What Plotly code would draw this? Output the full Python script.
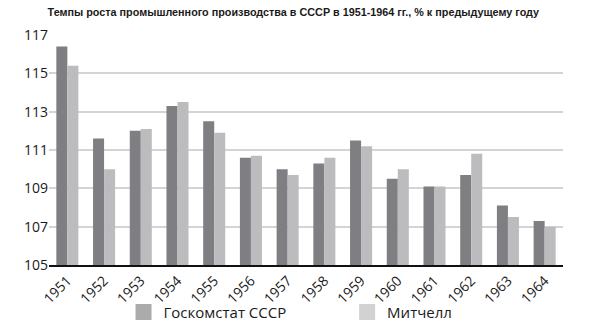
import plotly.graph_objects as go

# Industrial output growth, USSR 1951-1964, % of previous year
years = ["1951", "1952", "1953", "1954", "1955", "1956", "1957",
         "1958", "1959", "1960", "1961", "1962", "1963", "1964"]
goskomstat = [116.4, 111.6, 112.0, 113.3, 112.5, 110.6, 110.0,
              110.3, 111.5, 109.5, 109.1, 109.7, 108.1, 107.3]
mitchell = [115.4, 110.0, 112.1, 113.5, 111.9, 110.7, 109.7,
            110.6, 111.2, 110.0, 109.1, 110.8, 107.5, 107.0]
y_ticks = [105, 107, 109, 111, 113, 115, 117]

names = ["Госкомстат СССР", "Митчелл"]
bar_colors = ["#7f7f83", "#bcbcbe"]
legend_colors = ["#ababab", "#d2d2d2"]
legend_ids = ["legend", "legend2"]

FONT = "Open Sans"

fig = go.Figure()
for vals, name, col in zip([goskomstat, mitchell], names, bar_colors):
    fig.add_trace(go.Bar(x=years, y=vals, name=name, marker_color=col,
                         marker_line_width=0, showlegend=False))

# legend entries as square markers, one legend box per series
for name, col, lg in zip(names, legend_colors, legend_ids):
    fig.add_trace(go.Scatter(x=[None], y=[None], mode="markers", name=name,
                             legend=lg,
                             marker=dict(symbol="square", size=16, color=col)))

legend_style = dict(orientation="h", yanchor="middle", y=-0.205, xanchor="left",
                    bgcolor="rgba(0,0,0,0)", borderwidth=0,
                    font=dict(family=FONT, size=15, color="#1a1a1a"))

fig.update_layout(
    width=615, height=331,
    margin=dict(l=49, r=52, t=35, b=66, autoexpand=False),
    paper_bgcolor="white", plot_bgcolor="white",
    barmode="group", bargap=0.4, bargroupgap=0,
    title=dict(text="Темпы роста промышленного производства в СССР в 1951-1964 гг., % к предыдущему году",
               font=dict(family="Liberation Sans", size=10.8, color="#1a1a1a", weight="bold"),
               x=0.477, xanchor="center", y=0.962, yanchor="middle"),
    font=dict(family=FONT, size=14, color="#1a1a1a"),
    xaxis=dict(tickangle=-45, showline=True, linecolor="#111111", linewidth=2,
               ticks="", showgrid=False, range=[-0.5, 13.5], automargin=False,
               tickfont=dict(family=FONT, size=14, color="#1a1a1a")),
    yaxis=dict(range=[105, 117], tickvals=y_ticks, showgrid=True, automargin=False,
               gridcolor="#d4d4d4", gridwidth=1.5, zeroline=False, ticks="",
               tickfont=dict(family=FONT, size=14, color="#1a1a1a")),
    legend=dict(legend_style, x=0.145),
    legend2=dict(legend_style, x=0.58),
)

fig.write_html("out.html")
